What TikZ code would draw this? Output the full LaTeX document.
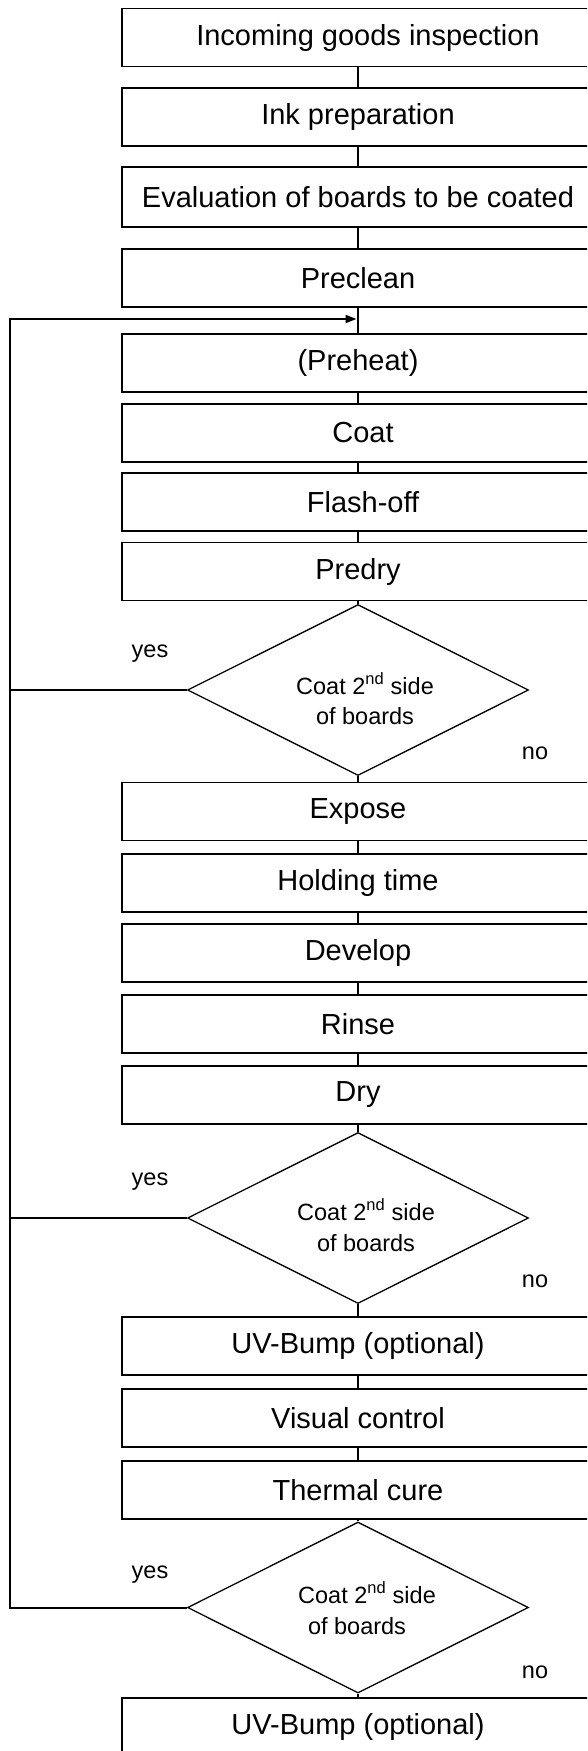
\documentclass[tikz,border=0pt]{standalone}
\usepackage{fontspec}
\setmainfont{Liberation Sans}
\usetikzlibrary{shapes.geometric,arrows.meta}
\begin{document}
\begin{tikzpicture}[x=1pt,y=-1pt,
  stepbox/.style={draw, line width=1.7pt, minimum width=472pt, minimum height=58pt, inner sep=0pt, font=\fontsize{29}{35}\selectfont},
  decide/.style={draw, diamond, line width=1.3pt, minimum width=341pt, minimum height=171pt, inner sep=0pt},
  dtext/.style={font=\fontsize{23.5}{30}\selectfont, anchor=base, inner sep=0pt},
  lbl/.style={font=\fontsize{23.5}{28}\selectfont, anchor=base, inner sep=0pt},
  conn/.style={line width=1.7pt},
  loopline/.style={line width=2pt}]
\clip (0,0) rectangle (587,1751);
\fill[white] (0,0) rectangle (587,1751);

\node[stepbox] (b1) at (358,37.5) {\hspace*{20pt}Incoming goods inspection};
\node[stepbox] (b2) at (358,117) {Ink preparation};
\node[stepbox, minimum height=60pt] (b3) at (358,197) {Evaluation of boards to be coated};
\node[stepbox] (b4) at (358,278) {Preclean};
\node[stepbox] (b5) at (358,363) {(Preheat)};
\node[stepbox] (b6) at (358,433) {\hspace*{10pt}Coat};
\node[stepbox] (b7) at (358,502) {\hspace*{10pt}Flash-off};
\node[stepbox] (b8) at (358,571.5) {Predry};
\node[decide] (d1) at (358,690) {};
\node[stepbox] (b9) at (358,811.5) {Expose};
\node[stepbox] (b10) at (358,883) {Holding time};
\node[stepbox] (b11) at (358,953) {Develop};
\node[stepbox] (b12) at (358,1024) {Rinse};
\node[stepbox] (b13) at (358,1095) {Dry};
\node[decide] (d2) at (358,1218) {};
\node[stepbox] (b14) at (358,1346) {UV-Bump (optional)};
\node[stepbox] (b15) at (358,1418) {Visual control};
\node[stepbox] (b16) at (358,1490) {Thermal cure};
\node[decide] (d3) at (358,1607.5) {};
\node[stepbox] (b17) at (358,1727) {UV-Bump (optional)};

% diamond texts
\node[dtext] (t1a) at (365,694) {Coat 2\textsuperscript{nd} side};
\node[dtext] (t1b) at (365,724) {of boards};
\node[dtext] (t2a) at (366,1220) {Coat 2\textsuperscript{nd} side};
\node[dtext] (t2b) at (366,1251) {of boards};
\node[dtext] (t3a) at (367,1603) {Coat 2\textsuperscript{nd} side};
\node[dtext] (t3b) at (357,1634) {of boards};

% yes / no labels
\node[lbl] (y1) at (150,657) {yes};
\node[lbl] (n1) at (535,759) {no};
\node[lbl] (y2) at (150,1185) {yes};
\node[lbl] (n2) at (535,1287) {no};
\node[lbl] (y3) at (150,1578) {yes};
\node[lbl] (n3) at (535,1678) {no};

% connectors
\foreach \a/\b in {b1/b2,b2/b3,b3/b4,b4/b5,b5/b6,b6/b7,b7/b8,b8/d1,d1/b9,b9/b10,b10/b11,b11/b12,b12/b13,b13/d2,d2/b14,b14/b15,b15/b16,b16/d3,d3/b17}
  \draw[conn] (\a) -- (\b);

% loop back
\coordinate (lt) at (9.5,319);
\coordinate (j) at (358,319);
\draw[loopline,-{Triangle[length=11pt,width=8pt]}, shorten >=1.5pt] (d3.west) -| (lt) -- (j);
\draw[loopline] (d1.west) -- (d1.west -| lt);
\draw[loopline] (d2.west) -- (d2.west -| lt);
\end{tikzpicture}
\end{document}
